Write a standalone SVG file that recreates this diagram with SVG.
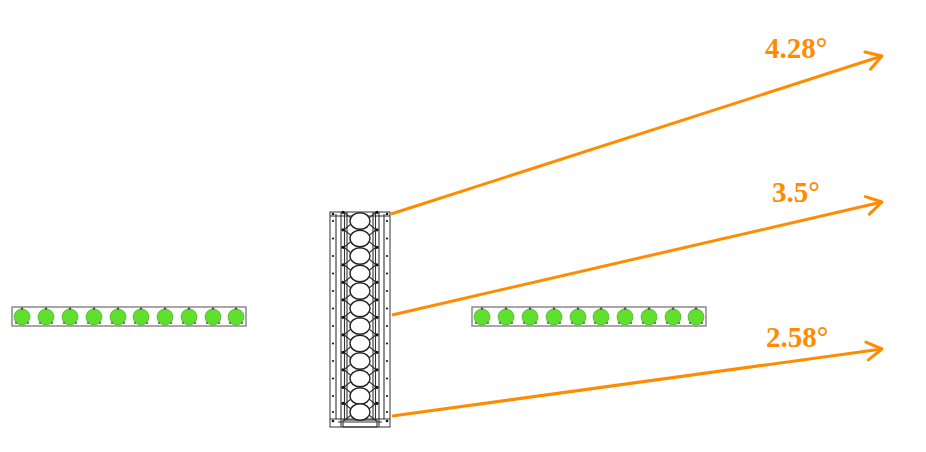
<svg xmlns="http://www.w3.org/2000/svg" width="926" height="452" viewBox="0 0 926 452">
<defs>
<style>
.bar{fill:#fff;stroke:#8a8a8a;stroke-width:1.5}
.led{fill:#5ee02c;stroke:#4a9a2a;stroke-width:0.6}
.bolt{fill:#555}
.col{fill:none;stroke:#333;stroke-width:1.1}
.cir{fill:#fff;stroke:#222;stroke-width:1.4}
.dot{fill:#111}
.ray{stroke:#ff8c00;stroke-width:3;fill:none;marker-end:url(#ah)}
.lbl{font-family:"Liberation Serif","Times New Roman",serif;font-weight:bold;font-size:29px;fill:#ff8c00}
</style>
<marker id="ah" markerUnits="userSpaceOnUse" viewBox="-18 -12 22 24" refX="0" refY="0" markerWidth="22" markerHeight="24" orient="auto">
<path d="M-15,-9 L0,0 L-15,9" fill="none" stroke="#ff8c00" stroke-width="3" stroke-linecap="round" stroke-linejoin="round"/>
</marker>
<g id="ledunit">
<circle class="led" cx="0" cy="0" r="8"/>
<circle class="bolt" cx="0" cy="-8.5" r="1.3"/>
<circle class="bolt" cx="-6" cy="6" r="1"/>
<circle class="bolt" cx="6" cy="6" r="1"/>
</g>
<g id="cell">
<ellipse class="cir" cx="0" cy="0" rx="10" ry="8.3"/>
<path class="col" d="M-16,-8.7 L-9,-3 M16,-8.7 L9,-3 M-16,8.7 L-9,3 M16,8.7 L9,3"/>
<circle class="dot" cx="-17" cy="-8.7" r="1.6"/>
<circle class="dot" cx="17" cy="-8.7" r="1.6"/>
<circle class="dot" cx="-27" cy="0" r="1.1"/>
<circle class="dot" cx="27" cy="0" r="1.1"/>
</g>
</defs>
<rect width="926" height="452" fill="#fff"/>

<g id="bar-left">
<rect class="bar" x="12" y="307" width="234" height="19"/>
<use href="#ledunit" x="22" y="317"/>
<use href="#ledunit" x="46" y="317"/>
<use href="#ledunit" x="70" y="317"/>
<use href="#ledunit" x="94" y="317"/>
<use href="#ledunit" x="118" y="317"/>
<use href="#ledunit" x="141" y="317"/>
<use href="#ledunit" x="165" y="317"/>
<use href="#ledunit" x="189" y="317"/>
<use href="#ledunit" x="213" y="317"/>
<use href="#ledunit" x="236" y="317"/>
</g>

<g id="bar-right">
<rect class="bar" x="472" y="307" width="234" height="19"/>
<use href="#ledunit" x="482" y="317"/>
<use href="#ledunit" x="506" y="317"/>
<use href="#ledunit" x="530" y="317"/>
<use href="#ledunit" x="554" y="317"/>
<use href="#ledunit" x="578" y="317"/>
<use href="#ledunit" x="601" y="317"/>
<use href="#ledunit" x="625" y="317"/>
<use href="#ledunit" x="649" y="317"/>
<use href="#ledunit" x="673" y="317"/>
<use href="#ledunit" x="696" y="317"/>
</g>

<g id="column">
<rect x="330" y="212" width="60" height="215" fill="#fff" stroke="#444" stroke-width="1.1"/>
<path class="col" d="M336,214 V419 M384,214 V419 M341,212 V427 M344.5,212 V420 M347,212 V420 M373,212 V420 M375.5,212 V420 M379,212 V427"/>
<path class="col" d="M330,216 H390 M330,419 H390 M338,422 H382"/>
<rect x="343" y="420" width="34" height="7" fill="none" stroke="#333" stroke-width="1.1"/>
<use href="#cell" x="360" y="221"/>
<use href="#cell" x="360" y="238.5"/>
<use href="#cell" x="360" y="256"/>
<use href="#cell" x="360" y="273.5"/>
<use href="#cell" x="360" y="291"/>
<use href="#cell" x="360" y="308.5"/>
<use href="#cell" x="360" y="326"/>
<use href="#cell" x="360" y="343.5"/>
<use href="#cell" x="360" y="361"/>
<use href="#cell" x="360" y="378.5"/>
<use href="#cell" x="360" y="396"/>
<use href="#cell" x="360" y="412"/>
<circle class="dot" cx="333" cy="214" r="1.3"/>
<circle class="dot" cx="387" cy="214" r="1.3"/>
<circle class="dot" cx="333" cy="421" r="1.3"/>
<circle class="dot" cx="387" cy="421" r="1.3"/>
</g>

<g id="connectors">
<line class="ray" x1="391" y1="214" x2="882" y2="56"/>
<line class="ray" x1="392" y1="315" x2="882" y2="202"/>
<line class="ray" x1="392" y1="416" x2="882" y2="349"/>
</g>

<g id="labels">
<text class="lbl" x="765" y="58">4.28°</text>
<text class="lbl" x="772" y="202">3.5°</text>
<text class="lbl" x="766" y="347">2.58°</text>
</g>
</svg>
